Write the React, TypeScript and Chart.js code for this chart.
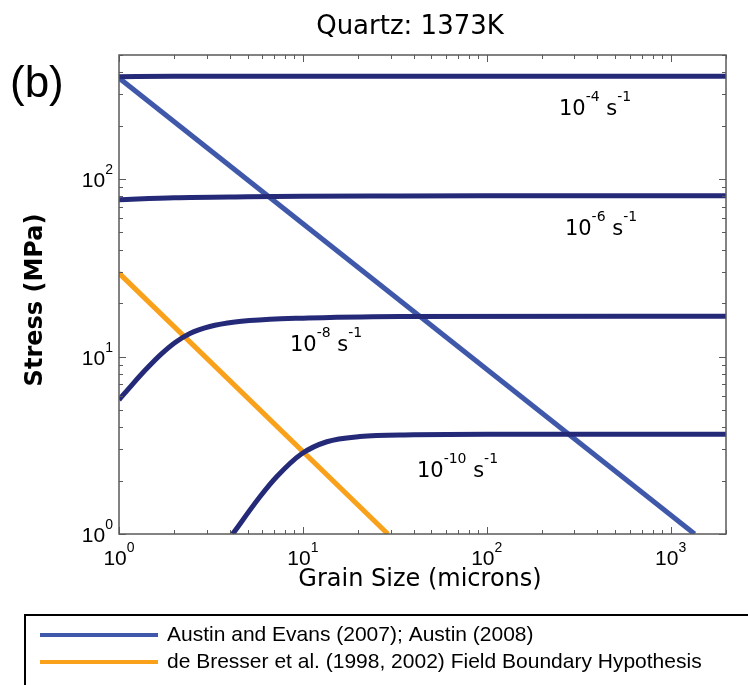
import React, { useEffect, useRef } from "react";
import { Chart, registerables } from "chart.js";

Chart.register(...registerables);

// ---- data (grain size in microns, stress in MPa) ----
const rate4X = [1, 2, 5, 10, 100, 2000];
const rate4Y = [377, 379, 380, 380, 380, 380];

const rate6X = [1, 2, 5, 10, 30, 100, 2000];
const rate6Y = [76.5, 78.5, 79.5, 80, 80.3, 80.5, 80.5];

const rate8X = [1, 1.19, 1.42, 1.69, 2.02, 2.43, 3.12, 4.27, 6.62, 10, 33.7, 2000];
const rate8Y = [5.7, 7.02, 8.58, 10.28, 12.0, 13.5, 14.77, 15.66, 16.24, 16.45, 16.8, 16.85];

const rate10X = [4.15, 5.84, 7.2, 9.85, 13.5, 20.4, 40, 100, 2000];
const rate10Y = [1, 1.62, 2.1, 2.83, 3.31, 3.54, 3.62, 3.65, 3.65];

const austinX = [1, 1350];
const austinY = [371, 1];

const bresserX = [1, 29];
const bresserY = [29.5, 1];

const rateLabels = ["-4", "-6", "-8", "-10"];
const rateLabelX = [247, 266, 8.5, 41.7];
const rateLabelY = [230, 48.5, 10.8, 2.1];

const xTickExps = [0, 1, 2, 3];
const yTickExps = [0, 1, 2];

const legendLabels = [
  "Austin and Evans (2007); Austin (2008)",
  "de Bresser et al. (1998, 2002) Field Boundary Hypothesis",
];

const NAVY = "#252a78";
const BLUE = "#3f58aa";
const ORANGE = "#f9a11b";

const toPts = (xs: number[], ys: number[]) => xs.map((x, i) => ({ x, y: ys[i] }));

const COMIC = "'DejaVu Sans', sans-serif";
const HELV = "'Liberation Sans', Arial, sans-serif";

function drawParts(
  ctx: CanvasRenderingContext2D,
  parts: [string, boolean][],
  x: number,
  y: number,
  baseFont: string,
  supFont: string,
  rise: number,
  align: "left" | "center" | "right"
) {
  let total = 0;
  const widths = parts.map(([t, sup]) => {
    ctx.font = sup ? supFont : baseFont;
    const w = ctx.measureText(t).width;
    total += w;
    return w;
  });
  let cx = align === "left" ? x : align === "center" ? x - total / 2 : x - total;
  ctx.textAlign = "left";
  ctx.textBaseline = "alphabetic";
  parts.forEach(([t, sup], i) => {
    ctx.font = sup ? supFont : baseFont;
    ctx.fillText(t, cx, sup ? y - rise : y);
    cx += widths[i];
  });
}

const decorPlugin = {
  id: "decor",
  afterDatasetsDraw(chart: any) {
    const ctx: CanvasRenderingContext2D = chart.ctx;
    const { left, right, top, bottom } = chart.chartArea;
    const xs = chart.scales.x;
    const ys = chart.scales.y;
    ctx.save();
    // frame
    ctx.strokeStyle = "#5a5a5a";
    ctx.lineWidth = 1.5;
    ctx.strokeRect(left, top, right - left, bottom - top);
    // ticks
    ctx.lineWidth = 1;
    ctx.beginPath();
    for (let e = 0; e <= 3; e++) {
      for (let m = 1; m <= 9; m++) {
        const v = m * Math.pow(10, e);
        if (v > xs.max) continue;
        const px = Math.round(xs.getPixelForValue(v)) + 0.5;
        const len = m === 1 ? 7 : 4;
        ctx.moveTo(px, bottom);
        ctx.lineTo(px, bottom - len);
        ctx.moveTo(px, top);
        ctx.lineTo(px, top + len);
      }
    }
    for (let e = 0; e <= 2; e++) {
      for (let m = 1; m <= 9; m++) {
        const v = m * Math.pow(10, e);
        if (v > ys.max) continue;
        const py = Math.round(ys.getPixelForValue(v)) + 0.5;
        const len = m === 1 ? 7 : 4;
        ctx.moveTo(left, py);
        ctx.lineTo(left + len, py);
        ctx.moveTo(right, py);
        ctx.lineTo(right - len, py);
      }
    }
    ctx.stroke();

    ctx.fillStyle = "#000";
    // tick labels
    xTickExps.forEach((e) => {
      const px = xs.getPixelForValue(Math.pow(10, e));
      drawParts(ctx, [["10", false], [String(e), true]], px, bottom + 31, `21px ${HELV}`, `14px ${HELV}`, 13, "center");
    });
    yTickExps.forEach((e) => {
      const py = ys.getPixelForValue(Math.pow(10, e));
      drawParts(ctx, [["10", false], [String(e), true]], left - 6, py + 8, `21px ${HELV}`, `14px ${HELV}`, 13, "right");
    });

    // rate labels
    rateLabels.forEach((lab, i) => {
      const px = xs.getPixelForValue(rateLabelX[i]);
      const py = ys.getPixelForValue(rateLabelY[i]);
      drawParts(
        ctx,
        [["10", false], [lab, true], [" s", false], ["-1", true]],
        px,
        py,
        `21px ${COMIC}`,
        `14px ${COMIC}`,
        14,
        "left"
      );
    });

    // titles
    ctx.textAlign = "center";
    ctx.textBaseline = "middle";
    ctx.font = `26px ${COMIC}`;
    ctx.fillText("Quartz: 1373K", 410, 27);
    ctx.font = `24px ${COMIC}`;
    ctx.fillText("Grain Size (microns)", 420, 580);
    ctx.save();
    ctx.translate(36, 300);
    ctx.rotate(-Math.PI / 2);
    ctx.font = `bold 24px ${COMIC}`;
    ctx.fillText("Stress (MPa)", 0, 0);
    ctx.restore();

    ctx.textAlign = "left";
    ctx.font = `44px ${HELV}`;
    ctx.fillText("(b)", 10, 85);

    // legend box
    ctx.strokeStyle = "#000";
    ctx.lineWidth = 2;
    ctx.strokeRect(25, 615, 760, 120);
    const legendColors = [BLUE, ORANGE];
    const legendYs = [635, 662];
    legendLabels.forEach((t, i) => {
      ctx.strokeStyle = legendColors[i];
      ctx.lineWidth = 4;
      ctx.beginPath();
      ctx.moveTo(40, legendYs[i]);
      ctx.lineTo(158, legendYs[i]);
      ctx.stroke();
      ctx.fillStyle = "#000";
      ctx.font = `21px ${HELV}`;
      ctx.textBaseline = "middle";
      ctx.fillText(t, 167, legendYs[i]);
    });
    ctx.restore();
  },
};

export default function App() {
  const ref = useRef<HTMLCanvasElement | null>(null);
  useEffect(() => {
    document.body.style.margin = "0";
    const canvas = ref.current!;
    const mk = (label: string, xs: number[], ys: number[], color: string, curved: boolean) => ({
      label,
      data: toPts(xs, ys),
      borderColor: color,
      backgroundColor: color,
      borderWidth: 5,
      pointRadius: 0,
      fill: false,
      clip: 0,
      cubicInterpolationMode: curved ? ("monotone" as const) : ("default" as const),
      tension: 0,
      borderCapStyle: "butt" as const,
    });
    const chart = new Chart(canvas, {
      type: "line",
      data: {
        datasets: [
          mk("1e-4", rate4X, rate4Y, NAVY, true),
          mk("1e-6", rate6X, rate6Y, NAVY, true),
          mk("1e-8", rate8X, rate8Y, NAVY, true),
          mk("1e-10", rate10X, rate10Y, NAVY, true),
          mk(legendLabels[0], austinX, austinY, BLUE, false),
          mk(legendLabels[1], bresserX, bresserY, ORANGE, false),
        ],
      },
      options: {
        responsive: false,
        animation: false,
        parsing: true,
        layout: { padding: { left: 119, top: 55, right: 22, bottom: 151 } },
        plugins: { legend: { display: false }, title: { display: false }, tooltip: { enabled: false } },
        scales: {
          x: { type: "logarithmic", min: 1, max: 2000, display: false },
          y: { type: "logarithmic", min: 1, max: 500, display: false },
        },
      },
      plugins: [decorPlugin],
    });
    return () => chart.destroy();
  }, []);
  return <canvas ref={ref} width={748} height={685} style={{ display: "block", width: 748, height: 685 }} />;
}
